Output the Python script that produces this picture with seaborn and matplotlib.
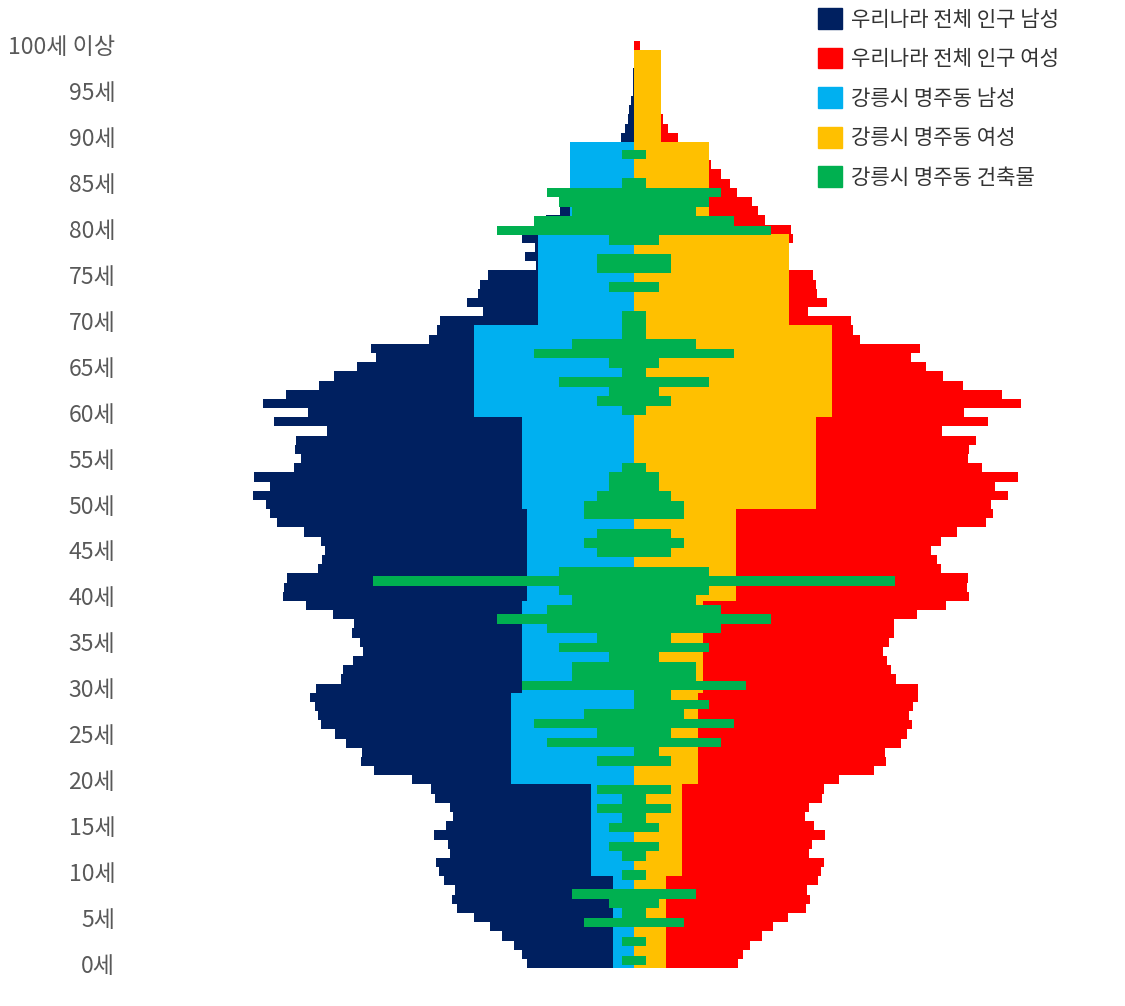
import numpy as np
import pandas as pd
from matplotlib import pyplot as plt
from matplotlib.patches import Patch
import seaborn as sns

sns.set_style('white')
plt.rcParams['font.family'] = ['Noto Sans CJK KR', 'DejaVu Sans']

NAVY = '#002060'
RED = '#FF0000'
SKY = '#00B0F0'
GOLD = '#FFC000'
GREEN = '#00B050'

# national population by single age (0..100) (display units)
ages = np.arange(0, 101)
nat_male = np.array([
    107, 112, 120, 132, 144, 160, 177, 182, 179, 190,   # 0-9
    195, 198, 184, 186, 200, 188, 181, 184, 199, 203,   # 10-19
    222, 260, 273, 272, 288, 299, 313, 316, 319, 324,   # 20-29
    318, 293, 291, 281, 271, 274, 282, 280, 301, 328,   # 30-39
    351, 350, 347, 316, 312, 309, 313, 330, 357, 364,   # 40-49
    368, 381, 364, 380, 340, 333, 339, 338, 307, 360,   # 50-59
    326, 371, 348, 315, 300, 277, 258, 263, 205, 197,   # 60-69
    194, 151, 167, 156, 154, 146, 98, 109, 99, 112,     # 70-79
    100, 88, 74, 60, 50, 42, 35, 28, 22, 17,            # 80-89
    13, 9, 6, 5, 3, 1, 0.8, 0.6, 0.4, 0.3,              # 90-99
    0.3])                                               # 100+
nat_female = np.array([
    104, 109, 116, 128, 139, 154, 172, 176, 173, 184,
    187, 190, 175, 178, 191, 180, 171, 175, 188, 190,
    205, 240, 252, 251, 267, 273, 278, 275, 279, 284,
    284, 262, 257, 253, 249, 255, 260, 260, 283, 312,
    335, 333, 334, 307, 303, 297, 307, 323, 352, 359,
    357, 374, 361, 384, 348, 334, 335, 342, 308, 354,
    330, 387, 368, 329, 309, 292, 277, 286, 226, 219,
    217, 174, 193, 183, 182, 179, 148, 152, 150, 159,
    157, 131, 124, 118, 103, 96, 87, 77, 65, 55,
    44, 34, 29, 25, 22, 19, 16, 13, 10, 8,
    6])

# 강릉시 명주동 population by 10-year group (persons)
group_mid = np.arange(4.5, 100, 10)
local_male = np.array([4, 8, 23, 21, 20, 21, 30, 18, 12, 0])
local_female = np.array([6, 9, 12, 13, 19, 34, 37, 29, 14, 5])
PERSON = 5.345

# 강릉시 명주동 buildings (count per row, left / right half)
bld_idx = np.arange(0, 86)
bld_right = np.array([
    1, 0, 1, 0, 4, 1, 2, 5, 0, 1,
    0, 1, 2, 0, 2, 1, 3, 1, 3, 0,
    0, 3, 2, 7, 3, 8, 4, 6, 3, 9,
    5, 5, 2, 6, 3, 7, 11, 7, 5, 6,
    21, 6, 0, 3, 4, 3, 0, 4, 4, 3,
    2, 2, 1, 0, 0, 0, 0, 0, 1, 3,
    2, 6, 1, 2, 8, 5, 1, 1, 1, 0,
    0, 2, 0, 3, 3, 0, 2, 11, 8, 5,
    6, 7, 1, 0, 0, 1])
bld_left = bld_right.copy()
bld_left[[22, 27, 28]] = 0
BLD = 12.45

fig = plt.figure(figsize=(11.25, 10.06), dpi=100)
ax = fig.add_axes([125 / 1125, 37.9 / 1006, 990 / 1125, 927.2 / 1006])

kw = dict(orient='y', native_scale=True, width=1, saturation=1,
          errorbar=None, linewidth=0)
sns.barplot(x=-nat_male, y=ages, color=NAVY, ax=ax, **kw)
sns.barplot(x=nat_female, y=ages, color=RED, ax=ax, **kw)
sns.barplot(x=-local_male * PERSON, y=group_mid, color=SKY, ax=ax, **kw)
sns.barplot(x=local_female * PERSON, y=group_mid, color=GOLD, ax=ax, **kw)

ax.set_xlim(-509, 481)
ax.set_ylim(-0.5, 100.5)
ticks = np.arange(0, 101, 5)
ax.set_yticks(ticks)
ax.set_yticklabels([f'{t}세' for t in ticks[:-1]] + ['100세 이상'],
                   fontsize=16.6, color='#595959', fontweight='light')
ax.tick_params(axis='y', length=0, pad=7)
ax.set_xticks([])
ax.set_xlabel('')
ax.set_ylabel('')
for s in ax.spines.values():
    s.set_visible(False)

ax2 = ax.twinx()
sns.barplot(x=-bld_left * BLD, y=bld_idx, color=GREEN, ax=ax2, **kw)
sns.barplot(x=bld_right * BLD, y=bld_idx, color=GREEN, ax=ax2, **kw)
ax2.set_ylim(-0.823, 96.98)
ax2.set_xlim(-509, 481)
ax2.set_yticks([])
ax2.set_xticks([])
ax2.set_xlabel('')
ax2.set_ylabel('')
for s in ax2.spines.values():
    s.set_visible(False)

handles = [Patch(color=c, label=l) for c, l in [
    (NAVY, '우리나라 전체 인구 남성'),
    (RED, '우리나라 전체 인구 여성'),
    (SKY, '강릉시 명주동 남성'),
    (GOLD, '강릉시 명주동 여성'),
    (GREEN, '강릉시 명주동 건축물'),
]]
leg = fig.legend(handles=handles, loc='upper left', bbox_to_anchor=(818 / 1125, 1 - 8 / 1006),
                 frameon=False, fontsize=15.2, borderpad=0, borderaxespad=0,
                 handlelength=1.15, handleheight=1.15, handletextpad=0.4,
                 labelspacing=0.8)
for t in leg.get_texts():
    t.set_color('#333333')

fig.savefig('out.png', dpi=100)
